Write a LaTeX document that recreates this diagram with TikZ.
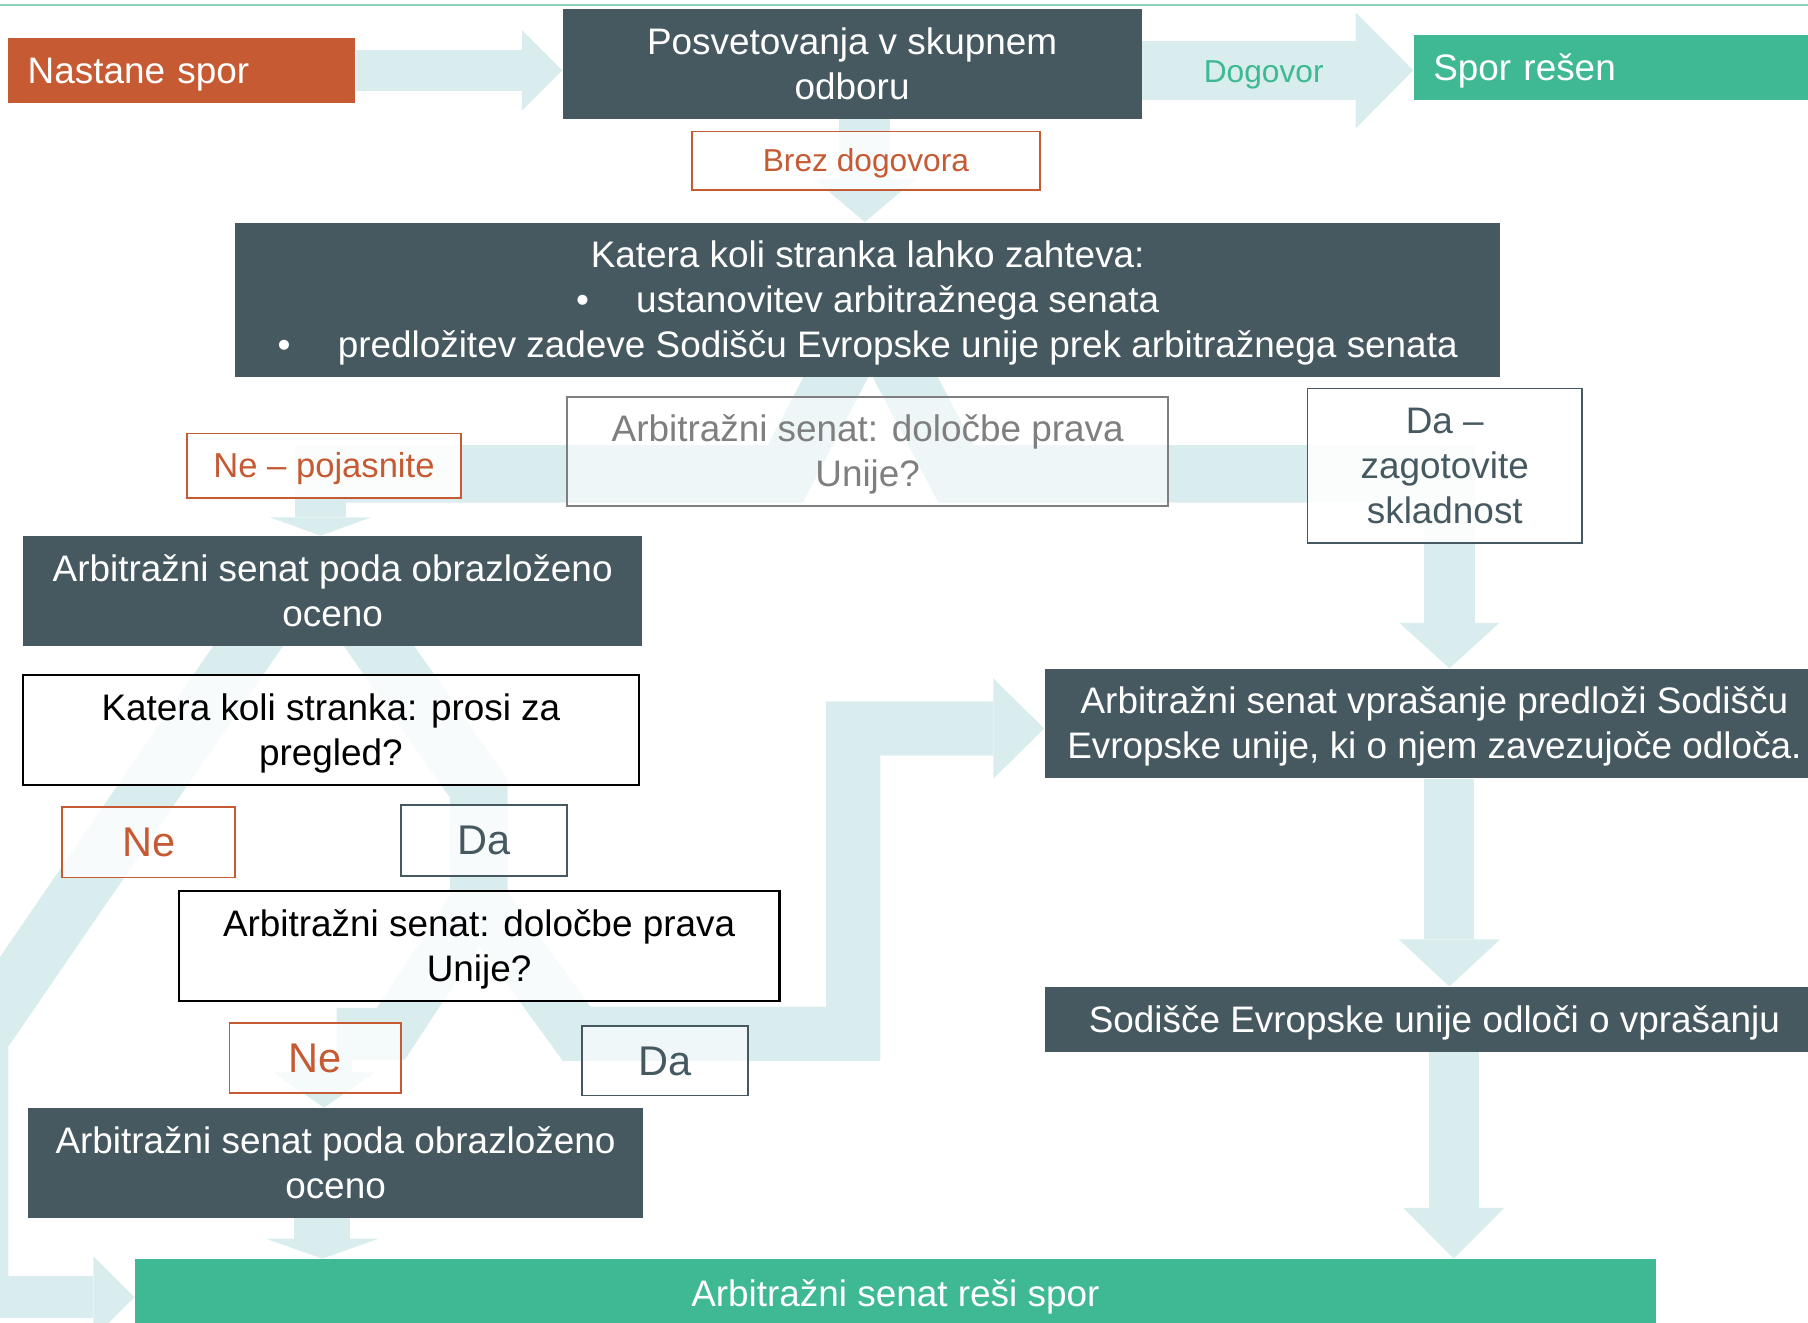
\documentclass[tikz,border=0pt]{standalone}
\usepackage{fontspec}
\setmainfont{Liberation Sans}
\usetikzlibrary{arrows.meta}
\pgfdeclarelayer{bg}
\pgfsetlayers{bg,main}
\definecolor{slate}{RGB}{70,89,96}
\definecolor{rust}{RGB}{197,90,51}
\definecolor{mint}{RGB}{62,185,148}
\definecolor{flowc}{RGB}{218,237,238}
\definecolor{greyt}{RGB}{127,127,127}
\definecolor{topl}{RGB}{140,210,185}
% strut with the font's ascent and descent, as slide software centres text
\newcommand{\ps}{\rule[-0.212em]{0pt}{1.117em}}
\tikzset{
  base/.style={rectangle, inner sep=0pt, align=center, text opacity=1,
    font=\fontsize{16pt}{19.5pt}\selectfont},
  darkbox/.style={base, fill=slate, text=white},
  greenbox/.style={base, fill=mint, text=white},
  rustline/.style={base, draw=rust, line width=0.75pt, fill=white, fill opacity=0.8, text=rust},
  slateline/.style={base, draw=slate, line width=0.75pt, fill=white, fill opacity=0.8, text=slate},
  blackline/.style={base, draw=black, line width=0.9pt, fill=white, fill opacity=0.8, text=black},
  greyline/.style={base, draw=greyt, line width=0.75pt, fill=white, fill opacity=0.55, text=greyt},
  flow/.style={draw=flowc, line join=miter},
  headtip/.style 2 args={-{Triangle[width=#1,length=#2,line width=0pt]}},
  bigfont/.style={font=\fontsize{18pt}{21pt}\selectfont},
  smallfont/.style={font=\fontsize{13.75pt}{16.5pt}\selectfont}
}
\begin{document}
\begin{tikzpicture}[x=0.5pt,y=-0.5pt]
\useasboundingbox (0,0) rectangle (1568,1147);

% ---------------- nodes ----------------
\node[base, fill=rust, text=white, minimum height=28pt, text width=133.5pt,
      inner xsep=8.5pt, align=left] (nastane) at (157.5,61) {\ps Nastane spor\ps};
\node[darkbox, minimum width=251pt, minimum height=47.5pt] (posvet) at (739,55.5)
  {\ps Posvetovanja v skupnem\\odboru\ps};
\node[greenbox, minimum height=28.5pt, text width=160pt, inner xsep=8.5pt, align=left]
  (spor) at (1403,58.5) {\ps Spor rešen\ps};
\node[base, text=mint, smallfont] (dogovor) at (1096,62) {\ps Dogovor\ps};
\node[rustline, smallfont, minimum width=151pt, minimum height=25.5pt] (brez) at (751,139.5)
  {\ps Brez dogovora\ps};
\node[darkbox, minimum width=548.5pt, minimum height=67pt] (katera) at (752.5,260)
  {\ps Katera koli stranka lahko zahteva:\\
   \textbullet\hspace{20.5pt}ustanovitev arbitražnega senata\\
   \textbullet\hspace{20.5pt}predložitev zadeve Sodišču Evropske unije prek arbitražnega senata\ps};
\node[greyline, minimum width=260.5pt, minimum height=47.5pt] (qa) at (752.5,391.5)
  {\ps Arbitražni senat: določbe prava\\Unije?\ps};
\node[rustline, font=\fontsize{15pt}{18pt}\selectfont, fill opacity=0.9,
      minimum width=119pt, minimum height=28pt] (nepoj) at (281,404) {\ps Ne – pojasnite\ps};
\node[slateline, fill opacity=0.9, minimum width=119pt, minimum height=67pt] (dazag) at (1253,404)
  {\ps Da –\\zagotovite\\skladnost\ps};
\node[darkbox, minimum width=268.5pt, minimum height=47.5pt] (poda1) at (288.5,512.5)
  {\ps Arbitražni senat poda obrazloženo\\oceno\ps};
\node[blackline, minimum width=267pt, minimum height=48pt] (prosi) at (287,633)
  {\ps Katera koli stranka: prosi za\\pregled?\ps};
\node[rustline, bigfont, minimum width=75pt, minimum height=30.5pt] (ne1) at (129,730.5) {\ps Ne\ps};
\node[slateline, bigfont, minimum width=72pt, minimum height=31pt] (da1) at (420,729) {\ps Da\ps};
\node[blackline, minimum width=260.5pt, minimum height=47.5pt] (qb) at (415.5,820.5)
  {\ps Arbitražni senat: določbe prava\\Unije?\ps};
\node[rustline, bigfont, fill opacity=0.75, minimum width=74.5pt, minimum height=30.5pt] (ne2) at (273.5,917.5) {\ps Ne\ps};
\node[slateline, bigfont, fill opacity=0.6, minimum width=72pt, minimum height=30pt] (da2) at (577,920) {\ps Da\ps};
\node[darkbox, minimum width=267pt, minimum height=47.5pt] (poda2) at (291,1008.5)
  {\ps Arbitražni senat poda obrazloženo\\oceno\ps};
\node[darkbox, minimum width=338pt, minimum height=47.5pt] (vpr) at (1244,627.5)
  {\ps Arbitražni senat vprašanje predloži Sodišču\\Evropske unije, ki o njem zavezujoče odloča.\ps};
\node[darkbox, minimum width=338pt, minimum height=28pt] (sod) at (1244,884)
  {\ps Sodišče Evropske unije odloči o vprašanju\ps};
\node[greenbox, minimum width=659.5pt, minimum height=30pt] (resi) at (776.5,1122)
  {\ps Arbitražni senat reši spor\ps};

% ---------------- helper coordinates ----------------
\coordinate (yDog) at (0,61);
\coordinate (x750) at (750,0);
\coordinate (xL1) at (278,0);
\coordinate (xR) at (1257,0);
\coordinate (xR2) at (1260.8,0);
\coordinate (yRes) at (0,1125);
\coordinate (yV) at (0,631.8);
\coordinate (xN2) at (281,0);
\coordinate (xP2) at (279.5,0);

% ---------------- connectors (behind) ----------------
\begin{pgfonlayer}{bg}
\draw[topl, line width=0.8pt] (0,4) -- (1568,4);

\draw[flow, line width=17.6pt, headtip={35pt}{17.5pt}] (nastane.east) -- (nastane.east -| posvet.west);
\draw[flow, line width=25.3pt, headtip={50.5pt}{25pt}] (posvet.east |- yDog) -- (spor.west |- yDog);
\draw[flow, line width=22pt, headtip={44.5pt}{18.8pt}] (posvet.south -| x750) -- (katera.north -| x750);

% split below katera
\draw[flow, line width=25pt] (739,300) -- (681,411) -- (256,411);
\draw[flow, line width=25pt] (771,300) -- (829,411) -- (1279,411);
\draw[flow, line width=22pt, headtip={44pt}{8pt}] (nepoj.center -| xL1) -- (poda1.north -| xL1);
\draw[flow, line width=22pt, headtip={43.5pt}{19.75pt}] (dazag.center -| xR) -- (vpr.north -| xR);

% split below poda1
\draw[flow, line width=25pt] (229,540) -- (-17.8,900) -- (-17.8,1143);
\draw[flow, line width=18pt, headtip={35.4pt}{17.8pt}] (-60,1125) -- (resi.west |- yRes);
\draw[flow, line width=25pt] (314.5,540) -- (415.3,684) -- (415.3,800);

% split below qb
\draw[flow, line width=22.5pt] (415.3,780) -- (339,896.5) -- (292,896.5);
\draw[flow, line width=23.5pt, headtip={43.4pt}{22pt}] (415.3,780) -- (500,896.5) -- (740,896.5)
  -- (740,631.8) -- (vpr.west |- yV);

\draw[flow, line width=24pt, headtip={44pt}{15.25pt}] (ne2.center -| xN2) -- (poda2.north -| xN2);
\draw[flow, line width=24.3pt, headtip={49pt}{8.7pt}] (poda2.south -| xP2) -- (resi.north -| xP2);
\draw[flow, line width=21.7pt, headtip={44pt}{20.5pt}] (vpr.south -| xR) -- (sod.north -| xR);
\draw[flow, line width=21.8pt, headtip={43.75pt}{22pt}] (sod.south -| xR2) -- (resi.north -| xR2);
\end{pgfonlayer}
\end{tikzpicture}
\end{document}
